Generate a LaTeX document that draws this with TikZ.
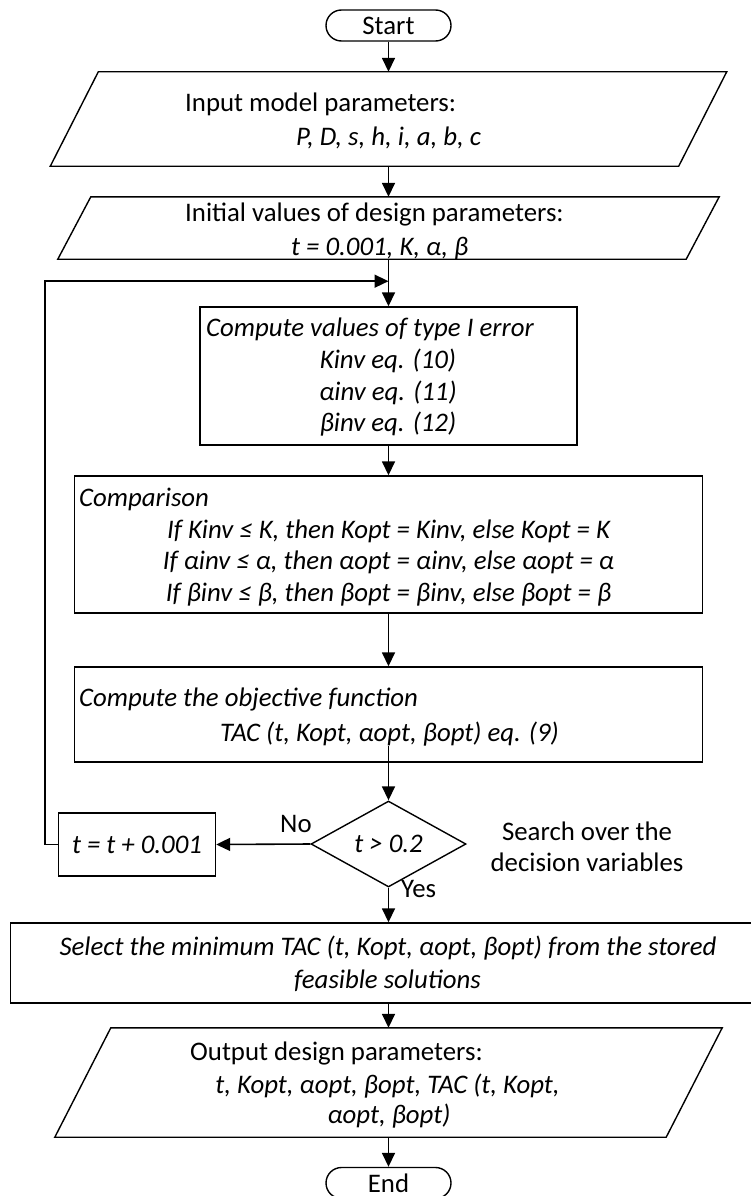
\documentclass[tikz,border=0pt]{standalone}
\usepackage{fontspec}
\setmainfont{Carlito}
\usetikzlibrary{shapes.geometric,arrows.meta}

\tikzset{
  base/.style={draw=black, line width=1.4pt, fill=white, inner sep=0pt},
  term/.style={base, rectangle, rounded corners=15.5pt, minimum width=125pt, minimum height=31pt},
  proc/.style={base, rectangle},
  iobody/.style={rectangle, inner sep=0pt},
  ioline/.style={draw=black, line width=1.4pt, fill=white},
  decision/.style={base, diamond},
  txt/.style={inner sep=0pt, text height=16.5pt, text depth=0pt},
  it/.style={txt, font=\fontsize{26.8}{32}\selectfont\itshape},
  flow/.style={line width=1.6pt, -{Triangle[length=14pt,width=13pt]}},
}

\begin{document}
\begin{tikzpicture}[x=1pt, y=-1pt, font=\fontsize{26.8}{32}\selectfont]
\useasboundingbox (0,0) rectangle (750,1196);

% input / output bodies (slanted outlines drawn around them)
\node[iobody, minimum width=628pt, minimum height=94pt] (in) at (388.5,119) {};
\draw[ioline] ([xshift=24pt]in.north west) -- ([xshift=24pt]in.north east)
  -- ([xshift=-24pt]in.south east) -- ([xshift=-24pt]in.south west) -- cycle;
\node[iobody, minimum width=628pt, minimum height=62pt] (init) at (388.5,228) {};
\draw[ioline] ([xshift=16.5pt]init.north west) -- ([xshift=16.5pt]init.north east)
  -- ([xshift=-16.5pt]init.south east) -- ([xshift=-16.5pt]init.south west) -- cycle;
\node[iobody, minimum width=611pt, minimum height=109pt] (out) at (388.5,1082.5) {};
\draw[ioline] ([xshift=28pt]out.north west) -- ([xshift=28pt]out.north east)
  -- ([xshift=-28pt]out.south east) -- ([xshift=-28pt]out.south west) -- cycle;

% other shapes of the flow
\node[term] (start) at (388.5,25.5) {Start};
\node[proc, minimum width=377pt, minimum height=138pt] (comp) at (388.5,376) {};
\node[proc, minimum width=628.5pt, minimum height=137pt] (cmp) at (388.5,544.5) {};
\node[proc, minimum width=628.5pt, minimum height=95pt] (obj) at (388.5,714.5) {};
\node[decision, minimum width=155pt, minimum height=62pt] (dec) at (388.5,844) {\itshape t > 0.2};
\node[proc, minimum width=157pt, minimum height=63pt] (tb) at (137,844.5) {\itshape t = t + 0.001};
\node[proc, minimum width=756pt, minimum height=80pt] (sel) at (388.5,963) {};
\node[term] (end) at (388.5,1183) {End};

% texts inside the shapes
\node[txt, anchor=west] (inA) at (185,103) {Input model parameters:};
\node[it, anchor=west] (inB) at (296,137) {P, D, s, h, i, a, b, c};
\node[txt, anchor=west] (initA) at (185,213) {Initial values of design parameters:};
\node[it, anchor=west] (initB) at (291,247) {t = 0.001, K, α, β};
\node[it, anchor=west] (compA) at (206,328) {Compute values of type I error};
\node[it] (compB) at (388,360) {Kinv eq. (10)};
\node[it] (compC) at (388,392) {αinv eq. (11)};
\node[it] (compD) at (388,423) {βinv eq. (12)};
\node[it, anchor=west] (cmpA) at (79,498) {Comparison};
\node[it] (cmpB) at (388.5,530) {If Kinv ≤ K, then Kopt = Kinv, else Kopt = K};
\node[it] (cmpC) at (388.5,561) {If αinv ≤ α, then αopt = αinv, else αopt = α};
\node[it] (cmpD) at (388.5,593) {If βinv ≤ β, then βopt = βinv, else βopt = β};
\node[it, anchor=west] (objA) at (79,698) {Compute the objective function};
\node[it] (objB) at (389.5,733) {TAC (t, Kopt, αopt, βopt) eq. (9)};
\node[it] (selA) at (388,947) {Select the minimum TAC (t, Kopt, αopt, βopt) from the stored};
\node[it] (selB) at (387.5,980) {feasible solutions};
\node[txt, anchor=west] (outA) at (190,1052) {Output design parameters:};
\node[it] (outB) at (387.5,1085) {t, Kopt, αopt, βopt, TAC (t, Kopt,};
\node[it] (outC) at (389,1115) {αopt, βopt)};

% side texts
\node[txt] (srch1) at (587,832) {Search over the};
\node[txt] (srch2) at (587,863) {decision variables};
\node[txt, anchor=west] (no) at (280,824) {No};
\node[txt, anchor=west] (yes) at (401,889) {Yes};

% connectors
\path (init.south) ++(0,22) coordinate (merge);
\draw[flow] (start.south) -- (in.north);
\draw[flow] (in.south) -- (init.north);
\draw[flow] (init.south) -- (comp.north);
\draw[flow] (comp.south) -- (cmp.north);
\draw[flow] (cmp.south) -- (obj.north);
\draw[flow] ([yshift=17pt]obj.south) -- (dec.north);
\draw[flow] (dec.west) -- (tb.east);
\draw[flow] (tb.west) -- ++(-12.6,0) |- (merge);
\draw[flow] (dec.south) -- (sel.north);
\draw[flow] (sel.south) -- (out.north);
\draw[flow] (out.south) -- (end.north);
\end{tikzpicture}
\end{document}
